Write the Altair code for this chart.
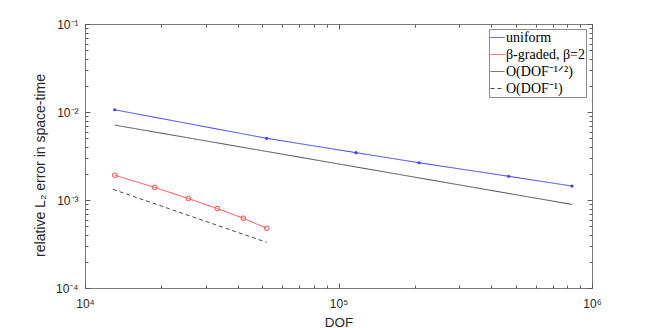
import altair as alt
import pandas as pd

# ---- data ----
uniform_dof = [13100, 52100, 117200, 207800, 469000, 834000]
uniform_err = [0.0106, 0.00502, 0.00345, 0.00265, 0.00186, 0.00144]

graded_dof = [13100, 18830, 25560, 33260, 42120, 52100]
graded_err = [0.00191, 0.00139, 0.00104, 0.00080, 0.00062, 0.000477]

half_dof = [13100, 834000]
half_err = [0.0071, 0.00089]

one_dof = [12900, 52100]
one_err = [0.00132, 0.00033]

series_names = ["uniform", "β-graded, β=2", "O(DOF⁻¹ᐟ²)", "O(DOF⁻¹)"]
series_colors = ["#3c3cff", "#ff4646", "#4a4a4a", "#4a4a4a"]
series_dash = [[1, 0], [1, 0], [1, 0], [4, 3]]

x_major = [1e4, 1e5, 1e6]
x_major_text = ["10⁴", "10⁵", "10⁶"]
x_minor = [k * 10 ** e for e in (4, 5) for k in range(2, 10)]
y_major = [1e-4, 1e-3, 1e-2, 1e-1]
y_major_text = ["10⁻⁴", "10⁻³", "10⁻²", "10⁻¹"]
y_minor = [k * 10.0 ** e for e in (-4, -3, -2) for k in range(2, 10)]

rows = []
for name, xs_, ys_ in zip(series_names,
                          [uniform_dof, graded_dof, half_dof, one_dof],
                          [uniform_err, graded_err, half_err, one_err]):
    for i, (a, b) in enumerate(zip(xs_, ys_)):
        rows.append({"series": name, "dof": a, "err": b, "order": i})
df = pd.DataFrame(rows)

W, H = 507, 264
FRAME = "#7a7a7a"
TICK = "#5a5a5a"
TEXT = "#262626"


def xsc():
    return alt.Scale(type="log", domain=[1e4, 1e6], nice=False)


def ysc():
    return alt.Scale(type="log", domain=[1e-4, 1e-1], nice=False)


def label_expr(vals, texts):
    parts = []
    for v, t in zip(vals, texts):
        parts.append(f"abs(datum.value - {v!r}) < {v * 1e-6!r} ? '{t}' : ")
    return "".join(parts) + "''"


x_axis = alt.Axis(orient="bottom", values=x_major, labelExpr=label_expr(x_major, x_major_text),
                  ticks=False, tickSize=0, domain=False, grid=False, labelFlush=False,
                  labelFont="Liberation Sans", labelFontSize=12, labelColor=TEXT,
                  labelBaseline="middle", labelPadding=15,
                  titleFont="Liberation Sans", titleFontSize=13.5, titleFontWeight="normal",
                  titleColor=TEXT, titleBaseline="middle", titleY=34)
y_axis = alt.Axis(orient="left", values=y_major, labelExpr=label_expr(y_major, y_major_text),
                  ticks=False, tickSize=0, domain=False, grid=False, labelFlush=False,
                  labelFont="Liberation Sans", labelFontSize=12, labelColor=TEXT,
                  labelPadding=7,
                  titleFont="Liberation Sans", titleFontSize=14, titleFontWeight="normal",
                  titleColor=TEXT, titleBaseline="middle", titleAlign="center",
                  titleX=-45, titleY=141)

dash_expr = "datum.value == '" + series_names[3] + "' ? [4, 3] : [1, 0]"
color_expr = ("datum.value == '" + series_names[0] + "' ? '" + series_colors[0] + "' : "
              "datum.value == '" + series_names[1] + "' ? '" + series_colors[1] + "' : '"
              + series_colors[2] + "'")

leg = alt.Legend(title=None, orient="none", legendX=404, legendY=5, direction="vertical",
                 symbolType="stroke", symbolSize=196, symbolStrokeWidth=1,
                 symbolDash={"expr": dash_expr},
                 symbolStrokeColor={"expr": color_expr},
                 labelFont="Liberation Serif", labelFontSize=14, labelColor="black",
                 labelOffset=1, rowPadding=2, padding=1, labelLimit=300,
                 strokeColor="#8c8c8c", fillColor="white")

lines = alt.Chart(df).mark_line(strokeWidth=1).encode(
    x=alt.X("dof:Q", scale=xsc(), axis=x_axis, title="DOF"),
    y=alt.Y("err:Q", scale=ysc(), axis=y_axis, title="relative L₂ error in space-time"),
    color=alt.Color("series:N", scale=alt.Scale(domain=series_names, range=series_colors), legend=leg),
    strokeDash=alt.StrokeDash("series:N", scale=alt.Scale(domain=series_names, range=series_dash), legend=None),
    order="order:Q",
)

blue_pts = alt.Chart(df[df.series == series_names[0]]).mark_point(
    filled=True, size=10, color=series_colors[0], opacity=1, shape="circle"
).encode(x=alt.X("dof:Q", scale=xsc()), y=alt.Y("err:Q", scale=ysc()))

red_pts = alt.Chart(df[df.series == series_names[1]]).mark_point(
    filled=False, size=22, color=series_colors[1], opacity=1, strokeWidth=1, shape="circle"
).encode(x=alt.X("dof:Q", scale=xsc()), y=alt.Y("err:Q", scale=ysc()))

data_layer = alt.layer(lines, blue_pts, red_pts)


def tick_layer(xorient, yorient, xvals, yvals, size):
    common = dict(labels=False, domain=False, grid=False, ticks=True, tickSize=size,
                  offset=-size, tickColor=TICK, tickWidth=1)
    return alt.Chart(df).mark_point(opacity=0).encode(
        x=alt.X("dof:Q", scale=xsc(), title=None,
                axis=alt.Axis(orient=xorient, values=xvals, **common)),
        y=alt.Y("err:Q", scale=ysc(), title=None,
                axis=alt.Axis(orient=yorient, values=yvals, **common)),
    )


chart = alt.layer(
    data_layer,
    tick_layer("bottom", "left", x_major, y_major, 5),
    tick_layer("bottom", "left", x_minor, y_minor, 3),
    tick_layer("top", "right", x_major, y_major, 5),
    tick_layer("top", "right", x_minor, y_minor, 3),
).resolve_scale(x="independent", y="independent").properties(
    width=W, height=H,
    autosize=alt.AutoSizeParams(type="none"),
    padding={"left": 77, "top": 16, "right": 54, "bottom": 40},
    background="white",
).configure_view(stroke=FRAME, strokeWidth=1)

chart.save("out.html", embed_options={"renderer": "svg", "actions": False})
